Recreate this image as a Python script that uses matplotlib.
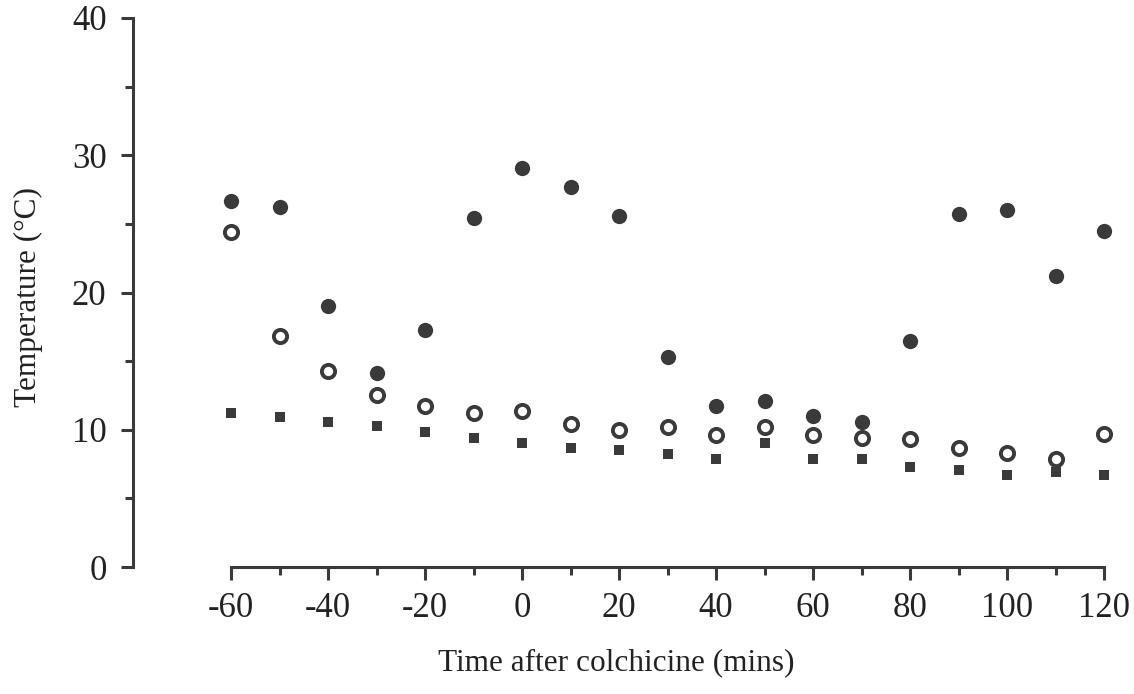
import numpy as np
import matplotlib.pyplot as plt

# time after colchicine (mins)
time_mins = [-60, -50, -40, -30, -20, -10, 0, 10, 20, 30, 40, 50, 60, 70, 80, 90, 100, 110, 120]

# temperature series (deg C)
temp_filled = [26.7, 26.2, 19.0, 14.1, 17.3, 25.4, 29.1, 27.7, 25.6, 15.3,
               11.7, 12.1, 11.0, 10.6, 16.5, 25.7, 26.0, 21.2, 24.5]
temp_open = [24.4, 16.8, 14.3, 12.5, 11.7, 11.2, 11.4, 10.4, 10.0, 10.2,
             9.6, 10.2, 9.6, 9.4, 9.3, 8.7, 8.3, 7.9, 9.7]
temp_square = [11.2, 10.9, 10.6, 10.3, 9.8, 9.4, 9.0, 8.7, 8.5, 8.2,
               7.9, 9.0, 7.9, 7.9, 7.3, 7.1, 6.7, 6.9, 6.7]

xticks_major = [-60, -40, -20, 0, 20, 40, 60, 80, 100, 120]
yticks_major = [0, 10, 20, 30, 40]

plt.rcParams['font.family'] = ['Liberation Serif', 'DejaVu Serif']
ink = '#3a3a3a'

W, H = 1134, 694
fig = plt.figure(figsize=(W / 100, H / 100), dpi=100)
# axes box in pixels: left edge = y axis line, bottom = x axis line
left_px, right_px, top_px, bot_px = 133, 1112, 18, 567
ax = fig.add_axes([left_px / W, (H - bot_px) / H,
                   (right_px - left_px) / W, (bot_px - top_px) / H])

ax.plot(time_mins, temp_filled, 'o', color=ink, markersize=11, markeredgewidth=0)
ax.plot(time_mins, temp_open, 'o', markerfacecolor='white', markeredgecolor=ink,
        markersize=9.5, markeredgewidth=2.8)
ax.plot(time_mins, temp_square, 's', color=ink, markersize=7.5, markeredgewidth=0)

# x scale: -60 sits at pixel 231, 120 at 1104
px_per_unit = (1104 - 231) / 180
ax.set_xlim(-60 - (231 - left_px) / px_per_unit, 120 + (right_px - 1104) / px_per_unit)
ax.set_ylim(0, 40)

for s in ['top', 'right']:
    ax.spines[s].set_visible(False)
ax.spines['left'].set_linewidth(2.2)
ax.spines['bottom'].set_linewidth(2.2)
ax.spines['left'].set_color(ink)
ax.spines['bottom'].set_color(ink)
ax.spines['bottom'].set_bounds(-60, 120)
ax.spines['left'].set_bounds(0, 40)

ax.set_xticks(xticks_major)
ax.set_xticks(np.arange(-50, 120, 20), minor=True)
ax.set_yticks(yticks_major)
ax.set_yticks([5, 15, 25, 35], minor=True)
ax.set_xticklabels([str(v) for v in xticks_major])
ax.set_yticklabels([str(v) for v in yticks_major])

ax.tick_params(axis='both', which='major', direction='out', length=9, width=2.2,
               color=ink, labelsize=25, labelcolor='#222222')
ax.tick_params(axis='x', which='major', pad=9)
ax.tick_params(axis='y', which='major', pad=10)
ax.tick_params(axis='both', which='minor', direction='out', length=6, width=2.2, color=ink)

ax.set_xlabel('Time after colchicine (mins)', fontsize=22.5, color='#222222')
ax.set_ylabel('Temperature (°C)', fontsize=22.5, color='#222222')
# place labels where they sit in the original (pixel-based)
ax.yaxis.set_label_coords((28 - left_px) / (right_px - left_px), (bot_px - 297) / (bot_px - top_px))
ax.xaxis.set_label_coords(0.5 + (616 - (left_px + right_px) / 2) / (right_px - left_px),
                          -(663 - bot_px) / (bot_px - top_px))
ax.xaxis.label.set_va('center')
ax.yaxis.label.set_va('center')

fig.savefig('out.png', dpi=100)
